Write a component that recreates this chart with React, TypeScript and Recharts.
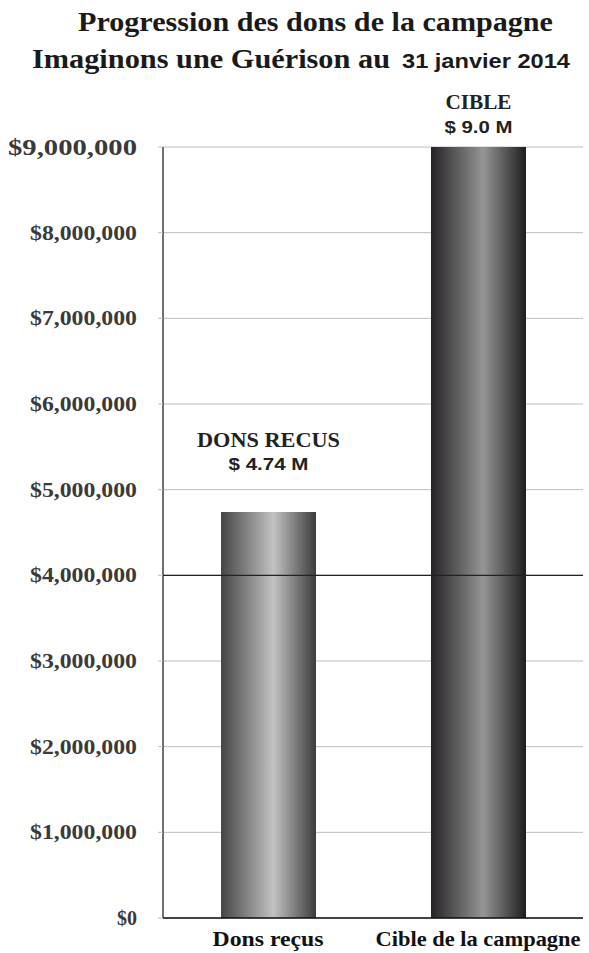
import React from "react";
import {
  BarChart,
  Bar,
  XAxis,
  YAxis,
  CartesianGrid,
  ReferenceLine,
  Cell,
  LabelList,
} from "recharts";

const categories = ["Dons reçus", "Cible de la campagne"];
const amounts = [4740000, 9000000];
const labelTitles = ["DONS RECUS", "CIBLE"];
const labelValues = ["$ 4.74 M", "$ 9.0 M"];
const yTicks = [0, 1000000, 2000000, 3000000, 4000000, 5000000, 6000000, 7000000, 8000000, 9000000];

const SERIF = "'Liberation Serif', 'DejaVu Serif', serif";
const SANS = "'Liberation Sans', Arial, sans-serif";

const data = categories.map((c, i) => ({ name: c, value: amounts[i] }));

// the source picture is stretched sideways, so text widths are pinned with textLength
function fmtMoney(v: number) {
  return "$" + v.toLocaleString("en-US");
}

function YTick(props: any) {
  const { y, payload } = props;
  const s = fmtMoney(payload.value);
  const top = payload.value === 9000000;
  const len = s.length <= 2 ? 20 : top ? 129 : 107;
  return (
    <text
      x={137}
      y={y}
      dy={top ? 8 : 7}
      textAnchor="end"
      fontFamily={SERIF}
      fontWeight="bold"
      fontSize={top ? 23 : 20}
      fill="#3a3a3a"
      textLength={len}
      lengthAdjust="spacingAndGlyphs"
    >
      {s}
    </text>
  );
}

function XTick(props: any) {
  const { x, y, payload, index } = props;
  return (
    <text
      x={x}
      y={y + 20}
      textAnchor="middle"
      fontFamily={SERIF}
      fontWeight="bold"
      fontSize={22}
      fill="#111"
      textLength={index === 0 ? 111 : 205}
      lengthAdjust="spacingAndGlyphs"
    >
      {payload.value}
    </text>
  );
}

function BarLabel(props: any) {
  const { x, y, width, index } = props;
  const cx = x + width / 2;
  const first = index === 0;
  return (
    <g>
      <text
        x={cx}
        y={y - (first ? 65 : 38)}
        textAnchor="middle"
        fontFamily={SERIF}
        fontWeight="bold"
        fontSize={first ? 21 : 20}
        fill="#222"
        textLength={first ? 143 : 66}
        lengthAdjust="spacingAndGlyphs"
      >
        {labelTitles[index]}
      </text>
      <text
        x={cx}
        y={y - (first ? 42 : 14)}
        textAnchor="middle"
        fontFamily={SANS}
        fontWeight="bold"
        fontSize={17}
        fill="#222"
        textLength={first ? 80 : 68}
        lengthAdjust="spacingAndGlyphs"
      >
        {labelValues[index]}
      </text>
    </g>
  );
}

export default function App() {
  return (
    <div
      style={{
        position: "absolute",
        left: 0,
        top: 0,
        width: 589,
        height: 953,
        background: "#fff",
      }}
    >
      <BarChart
        width={589}
        height={953}
        data={data}
        margin={{ top: 147, right: 6, bottom: 0, left: 13 }}
        barSize={95}
      >
        <defs>
          <linearGradient id="g0" x1="0" y1="0" x2="1" y2="0">
            <stop offset="0%" stopColor="#454545" />
            <stop offset="55%" stopColor="#c2c2c2" />
            <stop offset="100%" stopColor="#3c3c3c" />
          </linearGradient>
          <linearGradient id="g1" x1="0" y1="0" x2="1" y2="0">
            <stop offset="0%" stopColor="#262326" />
            <stop offset="55%" stopColor="#959595" />
            <stop offset="100%" stopColor="#1e1e1e" />
          </linearGradient>
        </defs>
        <CartesianGrid vertical={false} stroke="#bdbdbd" />
        <XAxis
          dataKey="name"
          height={35}
          axisLine={{ stroke: "#111", strokeWidth: 1.5 }}
          tickLine={false}
          tick={<XTick />}
          interval={0}
        />
        <YAxis
          width={150}
          domain={[0, 9000000]}
          ticks={yTicks}
          axisLine={{ stroke: "#111", strokeWidth: 1.2 }}
          tickLine={{ stroke: "#bdbdbd" }}
          tickSize={5}
          tick={<YTick />}
          interval={0}
        />
        <ReferenceLine y={4000000} stroke="#222" strokeWidth={1.2} />
        <Bar dataKey="value" isAnimationActive={false}>
          {data.map((d, i) => (
            <Cell key={i} fill={`url(#g${i})`} />
          ))}
          <LabelList dataKey="value" content={<BarLabel />} />
        </Bar>
      </BarChart>
      <svg
        width={589}
        height={90}
        style={{ position: "absolute", left: 0, top: 0, pointerEvents: "none" }}
      >
        <text
          x={78}
          y={31}
          fontFamily={SERIF}
          fontWeight="bold"
          fontSize={27}
          fill="#1a1a1a"
          textLength={475}
          lengthAdjust="spacingAndGlyphs"
        >
          Progression des dons de la campagne
        </text>
        <text
          x={32}
          y={68}
          fontFamily={SERIF}
          fontWeight="bold"
          fontSize={27}
          fill="#1a1a1a"
          textLength={358}
          lengthAdjust="spacingAndGlyphs"
        >
          Imaginons une Guérison au
        </text>
        <text
          x={402}
          y={68}
          fontFamily={SANS}
          fontWeight="bold"
          fontSize={20}
          fill="#1a1a1a"
          textLength={168}
          lengthAdjust="spacingAndGlyphs"
        >
          31 janvier 2014
        </text>
      </svg>
    </div>
  );
}
